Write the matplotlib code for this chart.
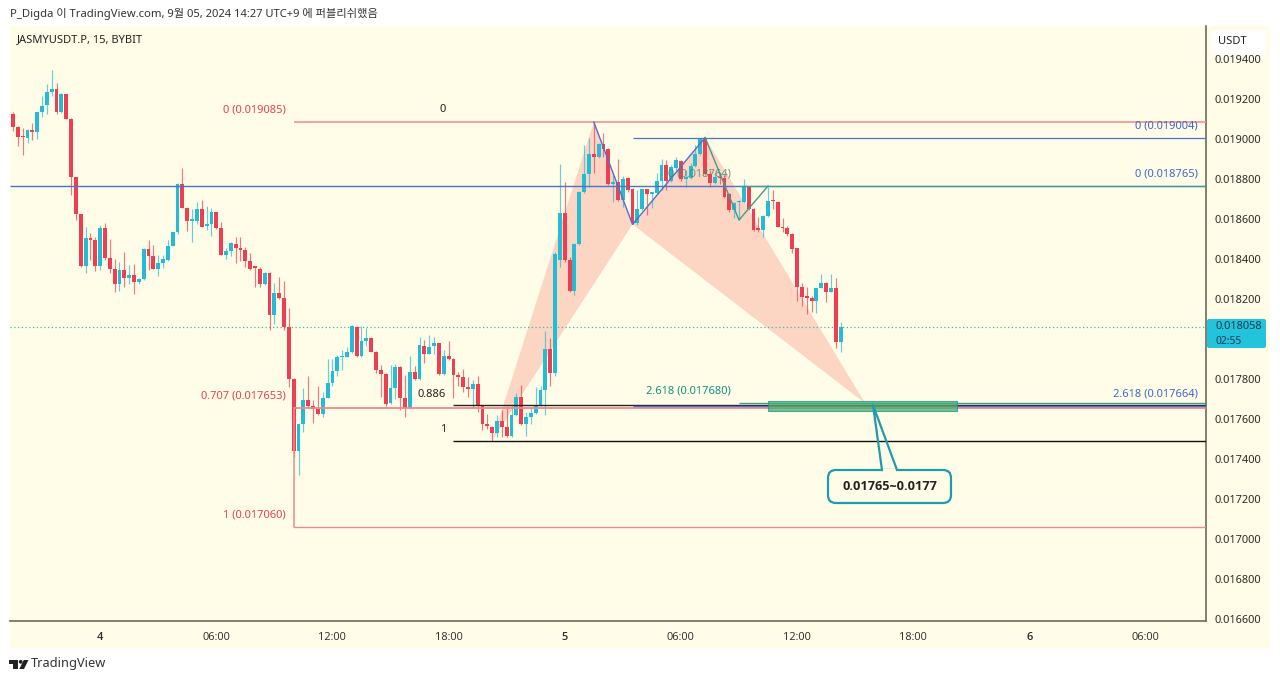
import matplotlib
matplotlib.use("Agg")
import matplotlib.pyplot as plt
from matplotlib.patches import Rectangle, FancyBboxPatch, Polygon, Circle
from matplotlib.transforms import IdentityTransform
from matplotlib.lines import Line2D

plt.rcParams['font.family'] = ['Noto Sans', 'Noto Sans CJK KR', 'DejaVu Sans']

# candle values, millionths of USDT
opens = [18985,19123,19062,19012,19007,19045,19033,19133,19170,19233,19250,19133,19225,19100,18808,18625,18365,18503,18495,18365,
         18557,18403,18350,18275,18345,18303,18320,18287,18298,18450,18415,18350,18382,18395,18467,18533,18775,18657,18592,18588,
         18650,18567,18575,18633,18553,18422,18438,18475,18453,18445,18392,18358,18350,18273,18332,18120,18232,18203,18058,17798,
         17442,17573,17695,17665,17652,17625,17707,17778,17842,17908,17912,17933,18062,17915,17992,18007,17937,17845,17825,17678,
         17757,17862,17707,17653,17837,17798,17967,17925,17965,17978,17823,17915,17902,17818,17808,17758,17748,17773,17668,17575,
         17562,17532,17590,17558,17515,17620,17712,17573,17608,17628,17668,17745,17948,17828,18395,18628,18395,18240,18475,18733,
         18825,18923,18912,18973,18948,18775,18787,18695,18803,18748,18578,18648,18748,18725,18728,18792,18870,18792,18853,18892,
         18798,18803,18865,18925,19003,18823,18778,18812,18803,18723,18645,18683,18683,18758,18648,18548,18545,18615,18692,18687,
         18562,18553,18523,18453,18258,18212,18207,18190,18253,18278,18237,18253,17987]
highs = [19120,19137,19065,19053,19048,19082,19137,19215,19275,19345,19278,19228,19225,19103,18812,18625,18562,18532,18512,18570,
         18582,18500,18398,18387,18437,18370,18375,18303,18453,18495,18470,18420,18420,18495,18537,18778,18857,18662,18648,18687,
         18695,18667,18653,18637,18587,18453,18487,18508,18512,18458,18432,18362,18358,18333,18335,18278,18312,18292,18153,17803,
         17578,17753,17815,17695,17765,17737,17898,17898,17920,17945,17962,18070,18065,18065,18053,18008,17940,17870,17828,17870,
         17875,17865,17820,17915,17865,18012,17995,18020,18008,17982,17945,17992,17903,17837,17848,17808,17795,17815,17670,17625,
         17565,17620,17645,17662,17665,17728,17770,17637,17662,17758,17765,18042,18003,18437,18875,18787,18412,18478,18740,18970,
         19003,19085,18978,19028,18953,18820,18898,18815,18812,18753,18745,18752,18752,18737,18828,18898,18895,18870,18912,18895,
         18845,18878,18970,19007,19007,18845,18832,18828,18820,18728,18687,18695,18798,18762,18653,18612,18620,18762,18745,18692,
         18603,18565,18532,18457,18278,18262,18215,18253,18325,18287,18323,18303,18087]
lows = [18953,19042,18965,18918,18978,18995,18998,19108,19125,19217,19125,19128,19098,18720,18595,18362,18328,18395,18342,18345,
        18395,18332,18235,18242,18262,18275,18225,18275,18295,18345,18348,18315,18353,18392,18465,18525,18653,18542,18487,18575,
        18558,18545,18517,18548,18420,18400,18415,18382,18392,18358,18345,18262,18258,18270,18045,18075,18198,18045,17762,17412,
        17320,17537,17653,17578,17620,17612,17703,17765,17815,17845,17912,17932,17912,17912,17965,17933,17832,17708,17665,17675,
        17698,17645,17608,17648,17795,17795,17878,17923,17925,17820,17820,17895,17703,17765,17737,17708,17653,17637,17545,17548,
        17492,17512,17508,17512,17512,17615,17570,17515,17573,17625,17665,17620,17765,17817,18362,18387,18237,18220,18470,18728,
        18762,18828,18907,18912,18770,18687,18692,18662,18737,18573,18570,18645,18620,18653,18725,18745,18745,18787,18845,18792,
        18758,18798,18862,18920,18820,18762,18775,18775,18703,18637,18603,18595,18678,18645,18542,18537,18508,18612,18648,18558,
        18537,18515,18432,18192,18165,18125,18137,18132,18253,18187,18233,17953,17933]
closes = [19090,19062,19008,19008,19045,19033,19133,19167,19233,19250,19133,19225,19100,18808,18625,18365,18503,18495,18365,18557,
          18403,18350,18275,18345,18303,18320,18287,18298,18450,18415,18350,18382,18398,18467,18533,18775,18657,18588,18598,18650,
          18562,18575,18633,18553,18422,18438,18478,18453,18445,18392,18350,18355,18273,18332,18120,18232,18203,18058,17798,17442,
          17573,17695,17665,17652,17625,17707,17778,17842,17908,17912,17933,18065,17915,17990,18003,17937,17845,17825,17675,17757,
          17862,17703,17653,17837,17798,17968,17925,17962,17978,17823,17917,17902,17818,17812,17762,17748,17773,17668,17575,17565,
          17532,17590,17562,17515,17620,17712,17573,17608,17628,17668,17745,17948,17828,18425,18628,18395,18240,18475,18737,18825,
          18923,18912,18973,18948,18775,18787,18695,18800,18745,18578,18648,18748,18725,18728,18792,18870,18792,18858,18895,18798,
          18812,18865,18925,19003,18823,18778,18812,18803,18712,18645,18682,18687,18765,18648,18545,18545,18615,18692,18688,18562,
          18553,18523,18450,18258,18212,18207,18190,18253,18278,18237,18253,17987,18058]

price_ticks = [0.0194,0.0192,0.0190,0.0188,0.0186,0.0184,0.0182,0.0178,0.0176,0.0174,0.0172,0.0170,0.0168,0.0166]
time_ticks = [19,43,67,91,115,139,163,187,211,235]
time_labels = ['4','06:00','12:00','18:00','5','06:00','12:00','18:00','6','06:00']

last_price = 0.018058
# harmonic pattern pivots: bar index, price
xabcd_bar = [100, 121, 129, 144, 177]
xabcd_price = [0.017492, 0.019085, 0.018573, 0.019007, 0.017680]
leg_bar = [144, 151, 157]
leg_price = [0.019007, 0.018595, 0.018765]

RED = '#ef3e52'; TEAL = '#22bcd4'; CREAM = '#fffde7'; LRED = '#f0888c'; BLUE = '#4a72d0'; GREEN = '#3f9d8a'
W, H = 1280, 681
fig = plt.figure(figsize=(12.8, 6.81), dpi=100, facecolor='white')

def frac(x, y):
    return x / W, 1 - y / H

def pix(x, y):
    return x, H - y

fig.add_artist(Rectangle(frac(10, 648), 1260 / W, 622 / H, transform=fig.transFigure, fc=CREAM, ec='none', zorder=-5))

ax = fig.add_axes([10 / W, 1 - 621 / H, 1196 / W, 595 / H])
ax.set_facecolor('none')
ax.set_xlim(0.38, 247.49)
ax.set_ylim(0.01659, 0.019565)
for s in ['top', 'left']:
    ax.spines[s].set_visible(False)
for s in ['right', 'bottom']:
    ax.spines[s].set_color('#6e6a5c'); ax.spines[s].set_linewidth(1.2)
ax.yaxis.tick_right()
ax.set_yticks(price_ticks)
ax.set_yticklabels([f'{v:.6f}' for v in price_ticks], fontsize=7.9, color='#2a2a2a')
ax.tick_params(axis='y', length=0, pad=6.3)
ax.set_xticks(time_ticks)
ax.set_xticklabels(time_labels, fontsize=7.9, color='#2a2a2a', family=['Open Sans', 'DejaVu Sans'])
for lab, t in zip(ax.get_xticklabels(), time_labels):
    if len(t) == 1:
        lab.set_fontweight('semibold')
ax.tick_params(axis='x', length=0, pad=8)

# pattern fill
xs = [xabcd_bar[i] for i in (0, 1, 2)]
ys = [xabcd_price[i] for i in (0, 1, 2)]
ax.add_patch(Polygon(list(zip(xs, ys)), fc='#fbc8b8', ec='none', alpha=0.75, zorder=1))
xs = [xabcd_bar[i] for i in (2, 3, 4)]
ys = [xabcd_price[i] for i in (2, 3, 4)]
ax.add_patch(Polygon(list(zip(xs, ys)), fc='#fbc8b8', ec='none', alpha=0.75, zorder=1))

# candles
for i, (o, h, l, c) in enumerate(zip(opens, highs, lows, closes)):
    col = TEAL if c >= o else RED
    ax.vlines(i, l / 1e6, h / 1e6, color=col, lw=0.85, alpha=0.7, zorder=2)
    lo, hi = min(o, c) / 1e6, max(o, c) / 1e6
    ax.bar(i, max(hi - lo, 0.000008), bottom=lo, width=0.8, color=col, lw=0, zorder=3)

# horizontal levels (price, first bar, colour, width)
levels = [
    (0.019085, 59, LRED, 1.1), (0.019004, 129, BLUE, 0.9), (0.018765, 0.38, BLUE, 1.0),
    (0.017653, 59, LRED, 1.3), (0.017060, 59, LRED, 1.0), (0.017670, 92, '#222222', 1.0),
    (0.017490, 92, '#111111', 1.0), (0.017664, 129, BLUE, 1.0), (0.017680, 151, GREEN, 1.0),
    (0.018765, 151, GREEN, 0.9),
]
for p, b, col, lw in levels:
    ax.plot([b, 247.49], [p, p], color=col, lw=lw, zorder=4, solid_capstyle='butt')
ax.plot([59, 59], [0.017653, 0.017060], color=LRED, lw=1.1, zorder=4)
ax.axhline(last_price, color='#3fb8a8', lw=0.9, ls=(0, (1, 2)), zorder=1.5)

# pattern legs
ax.plot(xabcd_bar[1:4], xabcd_price[1:4], color=BLUE, lw=1, zorder=4)
ax.plot(leg_bar, leg_price, color=GREEN, lw=1, zorder=4)

# target zone
ax.add_patch(Rectangle((157, 0.017641), 39, 0.00005, fc='#4caf6a', ec='#1f8f9a', lw=0.8, alpha=0.75, zorder=5))

# labels
def label(x, y, s, col, ha='left', fs=8, alpha=1, **kw):
    fig.text(x / W, 1 - y / H, s, color=col, ha=ha, va='center', fontsize=fs, alpha=alpha, zorder=6, **kw)

RT = '#e5434f'; BT = '#3f66cc'; GT = '#12917e'
label(286, 110, '0 (0.019085)', RT, 'right')
label(286, 396, '0.707 (0.017653)', RT, 'right')
label(286, 515, '1 (0.017060)', RT, 'right')
label(1198, 126, '0 (0.019004)', BT, 'right')
label(1198, 174, '0 (0.018765)', BT, 'right')
label(1198, 394, '2.618 (0.017664)', BT, 'right')
label(646, 391, '2.618 (0.017680)', GT)
label(668, 174, '0 (0.018764)', '#3d8a70', alpha=0.8)
label(443, 110, '0', '#222222', 'center')
label(432, 394, '0.886', '#222222', 'center')
label(443, 430, '1', '#222222', 'center')
label(17, 40, 'JASMYUSDT.P, 15, BYBIT', '#222222')
label(10, 14, 'P_Digda 이 TradingView.com, 9월 05, 2024 14:27 UTC+9 에 퍼블리쉬했음', '#333333', fs=8.1)
label(31, 664, 'TradingView', '#333333', fs=9.2)

# callout
idt = IdentityTransform()
CO = '#1f9bb0'
fig.add_artist(FancyBboxPatch(pix(828, 503), 123, 33, boxstyle='round,pad=0,rounding_size=8', fc=CREAM, ec=CO, lw=1.6, transform=idt, zorder=7))
fig.add_artist(Line2D([883, 896], [H - 470, H - 470], color=CREAM, lw=2.2, transform=idt, zorder=7.2))
fig.add_artist(Line2D([882, 873, 897], [H - 470, H - 405, H - 470], color=CO, lw=1.6, transform=idt, zorder=7.3))
fig.text(889.5 / W, 1 - 487 / H, '0.01765~0.0177', fontsize=9.2, fontweight='bold', color='#222222', ha='center', va='center', zorder=8, family=['Open Sans', 'DejaVu Sans'])

# axis widgets
fig.add_artist(FancyBboxPatch(pix(1211, 55), 55, 25, boxstyle='round,pad=0,rounding_size=4', fc='white', ec='none', transform=idt, zorder=7))
fig.text(1232 / W, 1 - 41 / H, 'USDT', fontsize=8, color='#222222', ha='center', va='center', zorder=8)
fig.add_artist(FancyBboxPatch(pix(1207, 348), 59, 29, boxstyle='round,pad=0,rounding_size=2', fc='#22c4dc', ec='none', transform=idt, zorder=7))
fig.text(1215 / W, 1 - 327 / H, '0.018058', fontsize=7.9, color='#123a52', va='center', zorder=8)
fig.text(1215 / W, 1 - 341 / H, '02:55', fontsize=7.4, color='#123a52', va='center', zorder=8)

# logo
fig.add_artist(Polygon([pix(9.3, 660), pix(18.3, 660), pix(18.3, 669), pix(13, 669), pix(13, 663.5), pix(9.3, 663.5)], fc='#222222', ec='none', transform=idt))
fig.add_artist(Circle(pix(20.7, 661.8), 1.9, fc='#222222', ec='none', transform=idt))
fig.add_artist(Polygon([pix(23.8, 660), pix(28.5, 660), pix(24, 669), pix(19.3, 669)], fc='#222222', ec='none', transform=idt))

fig.savefig('out.png', dpi=100)
